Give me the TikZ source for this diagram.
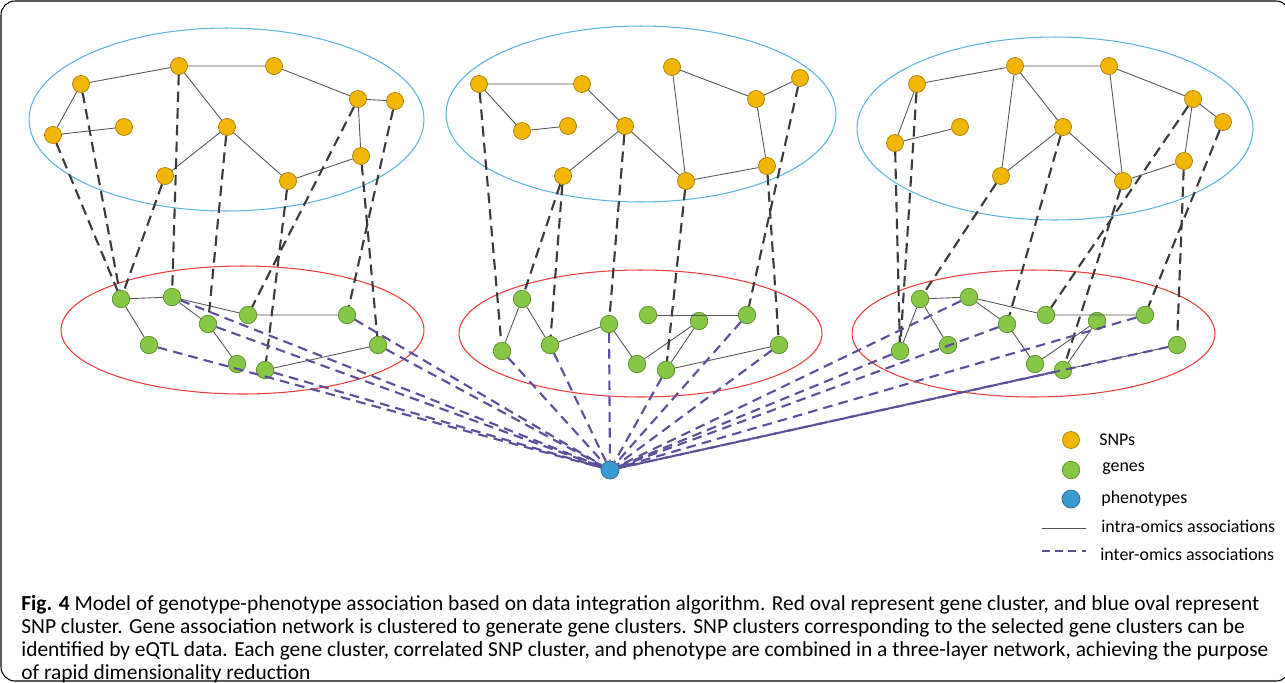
\documentclass[tikz,border=0pt]{standalone}
\usepackage{fontspec}
\setmainfont{Carlito}
\usepackage{xcolor}
\usepackage{tikz}
\usetikzlibrary{shapes.geometric}
\definecolor{snpfill}{HTML}{F2B705}
\definecolor{snpdraw}{HTML}{A67C00}
\definecolor{genefill}{HTML}{86C845}
\definecolor{genedraw}{HTML}{5B8C2E}
\definecolor{phenofill}{HTML}{3C9AD2}
\definecolor{phenodraw}{HTML}{2A6E99}
\definecolor{snpblue}{HTML}{5AB4DE}
\definecolor{genered}{HTML}{EE3B3B}
\definecolor{intragray}{HTML}{555555}
\definecolor{eqtldark}{HTML}{3A3A3A}
\definecolor{phenopurple}{HTML}{5C4E99}
\tikzstyle{snp} = [circle, draw=snpdraw, fill=snpfill, minimum size=0.34cm, inner sep=0pt]
\tikzstyle{gene} = [circle, draw=genedraw, fill=genefill, minimum size=0.35cm, inner sep=0pt]
\tikzstyle{pheno} = [circle, draw=phenodraw, fill=phenofill, minimum size=0.36cm, inner sep=0pt]
\tikzstyle{snpoval} = [ellipse, draw=snpblue, line width=0.6pt, inner sep=0pt]
\tikzstyle{geneoval} = [ellipse, draw=genered, line width=0.6pt, inner sep=0pt]
\tikzstyle{intra} = [draw=intragray, line width=0.5pt]
\tikzstyle{eqtl} = [draw=eqtldark, line width=1.2pt, dash pattern=on 6pt off 3.5pt]
\tikzstyle{genepheno} = [draw=phenopurple, line width=1.2pt, dash pattern=on 5.5pt off 3.5pt]
\tikzstyle{legendtext} = [anchor=west, inner sep=0pt, font=\fontsize{10.2}{12}\selectfont]

\begin{document}
\begin{tikzpicture}[x=0.02cm, y=-0.02cm]
	\useasboundingbox (0,0) rectangle (1285,683);
	\draw [black, line width=0.6pt, rounded corners=8pt] (1,1) rectangle (1290,681);
	
	% Cluster ovals
	\node [snpoval, minimum width=7.9cm, minimum height=3.66cm] (snpOvalA) at (226.5,119.5) {};
	\node [snpoval, minimum width=7.8cm, minimum height=3.52cm] (snpOvalB) at (641,114) {};
	\node [snpoval, minimum width=7.92cm, minimum height=3.66cm] (snpOvalC) at (1055,128.5) {};
	\node [geneoval, minimum width=7.26cm, minimum height=2.56cm] (geneOvalA) at (242.5,330) {};
	\node [geneoval, minimum width=7.26cm, minimum height=2.54cm] (geneOvalB) at (640.5,333.5) {};
	\node [geneoval, minimum width=7.26cm, minimum height=2.54cm] (geneOvalC) at (1033.5,333.5) {};
	
	% SNP layer
	\node [snp] (snpA1) at (81,84) {};
	\node [snp] (snpA2) at (53,135) {};
	\node [snp] (snpA3) at (124,127) {};
	\node [snp] (snpA4) at (179,66) {};
	\node [snp] (snpA5) at (274,66) {};
	\node [snp] (snpA6) at (227,127) {};
	\node [snp] (snpA7) at (165,176) {};
	\node [snp] (snpA8) at (288,181) {};
	\node [snp] (snpA9) at (358,99) {};
	\node [snp] (snpA10) at (395,101) {};
	\node [snp] (snpA11) at (361,156) {};
	
	\node [snp] (snpB1) at (479,84) {};
	\node [snp] (snpB2) at (582,84) {};
	\node [snp] (snpB3) at (522,131) {};
	\node [snp] (snpB4) at (568,126) {};
	\node [snp] (snpB5) at (625,126) {};
	\node [snp] (snpB6) at (563,176) {};
	\node [snp] (snpB7) at (672,67) {};
	\node [snp] (snpB8) at (756,99) {};
	\node [snp] (snpB9) at (800,78) {};
	\node [snp] (snpB10) at (767,166) {};
	\node [snp] (snpB11) at (686,181) {};
	
	\node [snp] (snpC1) at (917,84) {};
	\node [snp] (snpC2) at (895,143) {};
	\node [snp] (snpC3) at (960,127) {};
	\node [snp] (snpC4) at (1015,66) {};
	\node [snp] (snpC5) at (1109,66) {};
	\node [snp] (snpC6) at (1063,127) {};
	\node [snp] (snpC7) at (1001,176) {};
	\node [snp] (snpC8) at (1123,181) {};
	\node [snp] (snpC9) at (1193,99) {};
	\node [snp] (snpC10) at (1223,122) {};
	\node [snp] (snpC11) at (1184,161) {};
	
	% Gene layer
	\node [gene] (geneA1) at (121,299) {};
	\node [gene] (geneA2) at (172,297) {};
	\node [gene] (geneA3) at (149,345) {};
	\node [gene] (geneA4) at (208,324) {};
	\node [gene] (geneA5) at (248,315) {};
	\node [gene] (geneA6) at (237,364) {};
	\node [gene] (geneA7) at (265,370) {};
	\node [gene] (geneA8) at (347,315) {};
	\node [gene] (geneA9) at (378,345) {};
	
	\node [gene] (geneB1) at (522,299) {};
	\node [gene] (geneB2) at (502,351) {};
	\node [gene] (geneB3) at (550,345) {};
	\node [gene] (geneB4) at (609,324) {};
	\node [gene] (geneB5) at (648,315) {};
	\node [gene] (geneB6) at (699,321) {};
	\node [gene] (geneB7) at (747,315) {};
	\node [gene] (geneB8) at (637,364) {};
	\node [gene] (geneB9) at (666,370) {};
	\node [gene] (geneB10) at (779,345) {};
	
	\node [gene] (geneC1) at (920,299) {};
	\node [gene] (geneC2) at (900,351) {};
	\node [gene] (geneC3) at (948,345) {};
	\node [gene] (geneC4) at (969,297) {};
	\node [gene] (geneC5) at (1007,324) {};
	\node [gene] (geneC6) at (1046,315) {};
	\node [gene] (geneC7) at (1097,321) {};
	\node [gene] (geneC8) at (1145,315) {};
	\node [gene] (geneC9) at (1035,364) {};
	\node [gene] (geneC10) at (1063,370) {};
	\node [gene] (geneC11) at (1177,345) {};
	
	% Phenotype
	\node [pheno] (pheno) at (610,470) {};
	
	% Intra-omics associations
	\path [intra] (snpA2) -- (snpA1) -- (snpA4) -- (snpA5) -- (snpA9) -- (snpA10);
	\path [intra] (snpA2) -- (snpA3);
	\path [intra] (snpA4) -- (snpA6) -- (snpA7);
	\path [intra] (snpA6) -- (snpA8) -- (snpA11) -- (snpA9);
	\path [intra] (snpB3) -- (snpB1) -- (snpB2) -- (snpB5) -- (snpB6);
	\path [intra] (snpB3) -- (snpB4);
	\path [intra] (snpB5) -- (snpB11) -- (snpB7) -- (snpB8) -- (snpB9);
	\path [intra] (snpB8) -- (snpB10) -- (snpB11);
	\path [intra] (snpC3) -- (snpC2) -- (snpC1) -- (snpC4) -- (snpC5) -- (snpC9) -- (snpC10);
	\path [intra] (snpC4) -- (snpC7) -- (snpC6) -- (snpC4);
	\path [intra] (snpC6) -- (snpC8) -- (snpC5);
	\path [intra] (snpC9) -- (snpC11) -- (snpC8);
	
	\path [intra] (geneA3) -- (geneA1) -- (geneA2) -- (geneA5) -- (geneA8);
	\path [intra] (geneA2) -- (geneA4) -- (geneA6);
	\path [intra] (geneA7) -- (geneA9);
	\path [intra] (geneB2) -- (geneB1) -- (geneB3) -- (geneB4) -- (geneB8) -- (geneB6) -- (geneB9) -- (geneB10);
	\path [intra] (geneB5) -- (geneB7);
	\path [intra] (geneC2) -- (geneC1) -- (geneC4) -- (geneC5) -- (geneC9) -- (geneC7) -- (geneC10) -- (geneC11);
	\path [intra] (geneC1) -- (geneC3);
	\path [intra] (geneC4) -- (geneC6) -- (geneC8);
	
	% Inter-omics associations, SNP to gene
	\path [eqtl] (snpA2) -- (geneA1);
	\path [eqtl] (snpA1) -- (geneA1);
	\path [eqtl] (snpA7) -- (geneA1);
	\path [eqtl] (snpA4) -- (geneA2);
	\path [eqtl] (snpA6) -- (geneA4);
	\path [eqtl] (snpA8) -- (geneA7);
	\path [eqtl] (snpA9) -- (geneA5);
	\path [eqtl] (snpA10) -- (geneA8);
	\path [eqtl] (snpA11) -- (geneA9);
	\path [eqtl] (snpB1) -- (geneB2);
	\path [eqtl] (snpB6) -- (geneB1);
	\path [eqtl] (snpB6) -- (geneB3);
	\path [eqtl] (snpB5) -- (geneB4);
	\path [eqtl] (snpB11) -- (geneB9);
	\path [eqtl] (snpB9) -- (geneB7);
	\path [eqtl] (snpB10) -- (geneB10);
	\path [eqtl] (snpC2) -- (geneC2);
	\path [eqtl] (snpC1) -- (geneC2);
	\path [eqtl] (snpC7) -- (geneC1);
	\path [eqtl] (snpC6) -- (geneC5);
	\path [eqtl] (snpC9) -- (geneC6);
	\path [eqtl] (snpC8) -- (geneC10);
	\path [eqtl] (snpC10) -- (geneC8);
	\path [eqtl] (snpC11) -- (geneC11);
	
	% Inter-omics associations, gene to phenotype
	\path [genepheno] (geneA2) -- (pheno);
	\path [genepheno] (geneA3) -- (pheno);
	\path [genepheno] (geneA4) -- (pheno);
	\path [genepheno] (geneA7) -- (pheno);
	\path [genepheno] (geneA8) -- (pheno);
	\path [genepheno] (geneA9) -- (pheno);
	\path [genepheno] (geneB2) -- (pheno);
	\path [genepheno] (geneB3) -- (pheno);
	\path [genepheno] (geneB4) -- (pheno);
	\path [genepheno] (geneB9) -- (pheno);
	\path [genepheno] (geneB7) -- (pheno);
	\path [genepheno] (geneB10) -- (pheno);
	\path [genepheno] (geneC2) -- (pheno);
	\path [genepheno] (geneC4) -- (pheno);
	\path [genepheno] (geneC5) -- (pheno);
	\path [genepheno] (geneC8) -- (pheno);
	\path [genepheno] (geneC10) -- (pheno);
	\path [genepheno] (geneC11) -- (pheno);
	
	% Legend
	\node [snp] (legendSnp) at (1071,440) {};
	\node [gene] (legendGene) at (1071,470) {};
	\node [pheno] (legendPheno) at (1071,499) {};
	\coordinate (intraStart) at (1042,528);
	\coordinate (intraEnd) at (1086,528);
	\coordinate (interStart) at (1042,551);
	\coordinate (interEnd) at (1086,551);
	\path [intra] (intraStart) -- (intraEnd);
	\path [genepheno, line width=0.8pt, dash pattern=on 4.5pt off 3pt] (interStart) -- (interEnd);
	\node [legendtext] (snpLabel) at (1099,440) {SNPs};
	\node [legendtext] (geneLabel) at (1102,469) {genes};
	\node [legendtext] (phenoLabel) at (1101,499) {phenotypes};
	\node [legendtext] (intraLabel) at (1101,526) {intra-omics associations};
	\node [legendtext] (interLabel) at (1100,554) {inter-omics associations};
	
	% Caption
	\node [anchor=north west, inner sep=0pt, align=left, font=\fontsize{12.2}{13.2}\selectfont] (caption) at (21,595)
		{\textbf{Fig. 4} Model of genotype-phenotype association based on data integration algorithm. Red oval represent gene cluster, and blue oval represent\\
		SNP cluster. Gene association network is clustered to generate gene clusters. SNP clusters corresponding to the selected gene clusters can be\\
		identified by eQTL data. Each gene cluster, correlated SNP cluster, and phenotype are combined in a three-layer network, achieving the purpose\\
		of rapid dimensionality reduction};
\end{tikzpicture}
\end{document}
